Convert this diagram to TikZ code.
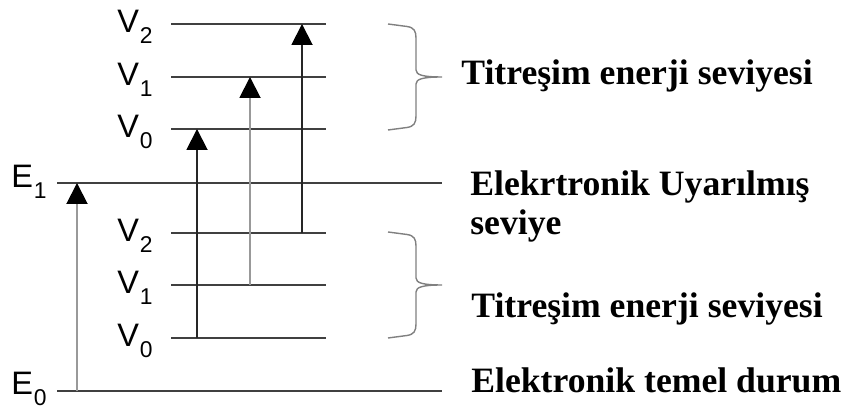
\documentclass[tikz,border=0pt]{standalone}
\usepackage{fontspec}
\setmainfont{Liberation Serif}
\setsansfont{Liberation Sans}
\usepackage{tikz}
\usetikzlibrary{arrows.meta,positioning,calc}
\usepackage{xcolor}
\definecolor{levelgray}{rgb}{0.25,0.25,0.25}
\definecolor{bracegray}{rgb}{0.5,0.5,0.5}

\newcommand{\lowsub}[1]{\kern0.5pt\raisebox{-0.33em}{\fontsize{13}{13}\selectfont #1}}

\tikzset{
  lvline/.style={levelgray, line width=1.2pt},
  excite/.style={line width=1.1pt, -{Triangle[width=4.2mm,length=4.2mm,color=black]}},
  lvlab/.style={anchor=base east, inner sep=0pt, font=\sffamily\fontsize{18.5}{18.5}\selectfont},
  desc/.style={anchor=base west, inner sep=0pt, align=left, font=\bfseries\fontsize{20.3}{22.2}\selectfont},
  vbrace/.style={bracegray, line width=0.8pt}
}

\begin{document}
\begin{tikzpicture}
            \useasboundingbox (0,0) rectangle (16.94,8.18);

            % --- Electronic levels ---
            \draw[lvline] (1.14,0.36) -- (8.84,0.36);
            \draw[lvline] (1.14,4.52) -- (8.84,4.52);
            \node[lvlab] (E0) at (0.94,0.29) {E\lowsub{0}};
            \node[lvlab] (E1) at (0.94,4.42) {E\lowsub{1}};

            % --- Vibrational levels of E0 ---
            \draw[lvline] (3.42,1.42) -- (6.52,1.42);
            \draw[lvline] (3.42,2.48) -- (6.52,2.48);
            \draw[lvline] (3.42,3.52) -- (6.52,3.52);
            \node[lvlab] (lV0) at (3.06,1.24) {V\lowsub{0}};
            \node[lvlab] (lV1) at (3.06,2.30) {V\lowsub{1}};
            \node[lvlab] (lV2) at (3.06,3.34) {V\lowsub{2}};

            % --- Vibrational levels of E1 ---
            \draw[lvline] (3.42,5.60) -- (6.52,5.60);
            \draw[lvline] (3.42,6.64) -- (6.52,6.64);
            \draw[lvline] (3.42,7.70) -- (6.52,7.70);
            \node[lvlab] (uV0) at (3.06,5.42) {V\lowsub{0}};
            \node[lvlab] (uV1) at (3.06,6.46) {V\lowsub{1}};
            \node[lvlab] (uV2) at (3.06,7.52) {V\lowsub{2}};

            % Transitions
            \coordinate (eFrom) at (1.54,0.36);
            \coordinate (eTo) at (1.54,4.52);
            \coordinate (v0From) at (3.94,1.42);
            \coordinate (v0To) at (3.94,5.60);
            \coordinate (v1From) at (5.00,2.48);
            \coordinate (v1To) at (5.00,6.64);
            \coordinate (v2From) at (6.04,3.52);
            \coordinate (v2To) at (6.04,7.70);
            \draw[excite, black!40] (eFrom) -- (eTo);
            \draw[excite, black!85] (v0From) -- (v0To);
            \draw[excite, black!40] (v1From) -- (v1To);
            \draw[excite, black!85] (v2From) -- (v2To);

            % Braces
            \foreach \m in {6.64,2.48} {
                \draw[vbrace] (7.76,\m+1.06) -- (8.14,\m+1.01)
                    .. controls (8.28,\m+0.99) and (8.32,\m+0.92) .. (8.32,\m+0.78)
                    -- (8.32,\m+0.14)
                    .. controls (8.32,\m+0.04) and (8.46,\m) .. (8.84,\m)
                    .. controls (8.46,\m) and (8.32,\m-0.04) .. (8.32,\m-0.14)
                    -- (8.32,\m-0.78)
                    .. controls (8.32,\m-0.92) and (8.28,\m-0.99) .. (8.14,\m-1.01)
                    -- (7.76,\m-1.06);
            }

            % --- Descriptions ---
            \node[desc] (upTxt) at (9.22,6.48) {Titreşim enerji seviyesi};
            \node[desc] (excTxt) at (9.40,3.48) {Elekrtronik Uyarılmış\\seviye};
            \node[desc] (lowTxt) at (9.42,1.82) {Titreşim enerji seviyesi};
            \node[desc] (gndTxt) at (9.42,0.32) {Elektronik temel durum};
        \end{tikzpicture}
\end{document}
